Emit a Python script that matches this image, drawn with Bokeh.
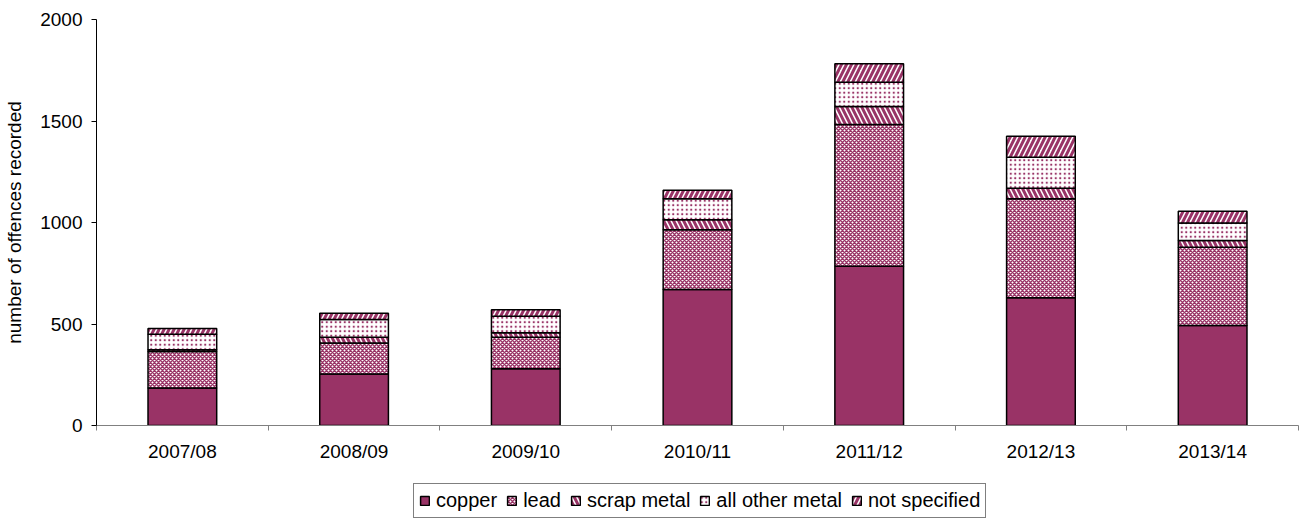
from bokeh.plotting import figure
from bokeh.layouts import column
from bokeh.models import ColumnDataSource, FixedTicker, Legend, LegendItem, Range1d
from bokeh.transform import stack
from bokeh.embed import file_html
from bokeh.resources import INLINE

years = ["2007/08", "2008/09", "2009/10", "2010/11", "2011/12", "2012/13", "2013/14"]
copper = [185, 254, 279, 670, 785, 629, 493]
lead = [179, 153, 156, 294, 698, 488, 385]
scrap_metal = [9, 28, 22, 49, 88, 52, 33]
all_other_metal = [77, 87, 81, 104, 120, 153, 86]
not_specified = [28, 31, 32, 42, 91, 103, 59]
y_ticks = [0, 500, 1000, 1500, 2000]

series = ["copper", "lead", "scrap_metal", "all_other_metal", "not_specified"]
labels = ["copper", "lead", "scrap metal", "all other metal", "not specified"]
PLUM = "#993366"
FONT = "Liberation Sans"

xs = [i + 0.5 for i in range(len(years))]
source = ColumnDataSource(dict(x=xs, copper=copper, lead=lead, scrap_metal=scrap_metal,
                               all_other_metal=all_other_metal, not_specified=not_specified))

p = figure(frame_width=1202, frame_height=406, output_backend="svg", toolbar_location=None,
           x_range=Range1d(0, len(years)), y_range=Range1d(0, 2000),
           min_border_left=96, min_border_top=19, min_border_right=2, min_border_bottom=45)
p.outline_line_color = None
p.xgrid.grid_line_color = None
p.ygrid.grid_line_color = None
p.background_fill_color = "white"

styles = [
    dict(fill_color=PLUM, hatch_pattern=None),
    dict(fill_color="white", hatch_pattern="diagonal_cross", hatch_scale=4, hatch_weight=1.5),
    dict(fill_color="white", hatch_pattern="left_diagonal_line", hatch_scale=10, hatch_weight=3),
    dict(fill_color="white", hatch_pattern="dot", hatch_scale=4.5, hatch_weight=3.5),
    dict(fill_color="white", hatch_pattern="right_diagonal_line", hatch_scale=10, hatch_weight=3),
]


def style_kw(st):
    kw = dict(fill_color=st["fill_color"], line_color="black", line_width=1.5)
    if st["hatch_pattern"]:
        kw.update(hatch_pattern=st["hatch_pattern"], hatch_color=PLUM,
                  hatch_scale=st["hatch_scale"], hatch_weight=st["hatch_weight"])
    return kw


for i, name in enumerate(series):
    p.vbar(x="x", width=0.4, source=source,
           bottom=stack(*series[:i]) if i > 0 else 0,
           top=stack(*series[:i + 1]), **style_kw(styles[i]))

p.yaxis.ticker = FixedTicker(ticks=y_ticks)
p.yaxis.minor_tick_line_color = None
p.yaxis.major_tick_in = 0
p.yaxis.major_tick_out = 5
p.yaxis.axis_line_color = "black"
p.yaxis.major_tick_line_color = "black"
p.yaxis.major_label_standoff = 9
p.yaxis.major_label_text_font = FONT
p.yaxis.major_label_text_font_size = "19px"
p.yaxis.major_label_text_color = "black"
p.yaxis.axis_label = "number of offences recorded"
p.yaxis.axis_label_text_font = FONT
p.yaxis.axis_label_text_font_size = "19px"
p.yaxis.axis_label_text_font_style = "normal"
p.yaxis.axis_label_text_color = "black"
p.yaxis.axis_label_standoff = 12

p.xaxis.ticker = FixedTicker(ticks=xs, minor_ticks=list(range(len(years) + 1)))
p.xaxis.major_label_overrides = {x: y for x, y in zip(xs, years)}
p.xaxis.major_tick_line_color = None
p.xaxis.major_tick_in = 0
p.xaxis.major_tick_out = 0
p.xaxis.minor_tick_in = 0
p.xaxis.minor_tick_out = 5
p.xaxis.minor_tick_line_color = "#808080"
p.xaxis.axis_line_color = "#808080"
p.xaxis.major_label_text_font = FONT
p.xaxis.major_label_text_font_size = "19px"
p.xaxis.major_label_text_color = "black"
p.xaxis.major_label_standoff = 10

# legend strip below the chart (same frame geometry as the chart)
lg = figure(frame_width=1202, frame_height=50, output_backend="svg", toolbar_location=None,
            x_range=Range1d(0, 1), y_range=Range1d(0, 1),
            x_axis_location=None, y_axis_location=None,
            min_border_left=96, min_border_right=2, min_border_top=0, min_border_bottom=0)
lg.outline_line_color = None
lg.xgrid.grid_line_color = None
lg.ygrid.grid_line_color = None
items = []
for i, name in enumerate(series):
    # proxy swatch bar, hidden behind the opaque legend box
    r = lg.vbar(x=[0.5], bottom=[0.25], top=[0.45], width=0.05, **style_kw(styles[i]))
    items.append(LegendItem(label=labels[i], renderers=[r]))

legend = Legend(items=items, orientation="horizontal", location=(317, 2),
                label_text_font=FONT, label_text_font_size="20px", label_text_color="black",
                glyph_width=11, glyph_height=11, spacing=9, label_standoff=6,
                padding=5, margin=0, border_line_color="black", border_line_width=1,
                label_height=19, background_fill_color="white", background_fill_alpha=1)
lg.add_layout(legend)

layout = column(p, lg, spacing=0)
open("out.html", "w").write(file_html(layout, INLINE))
